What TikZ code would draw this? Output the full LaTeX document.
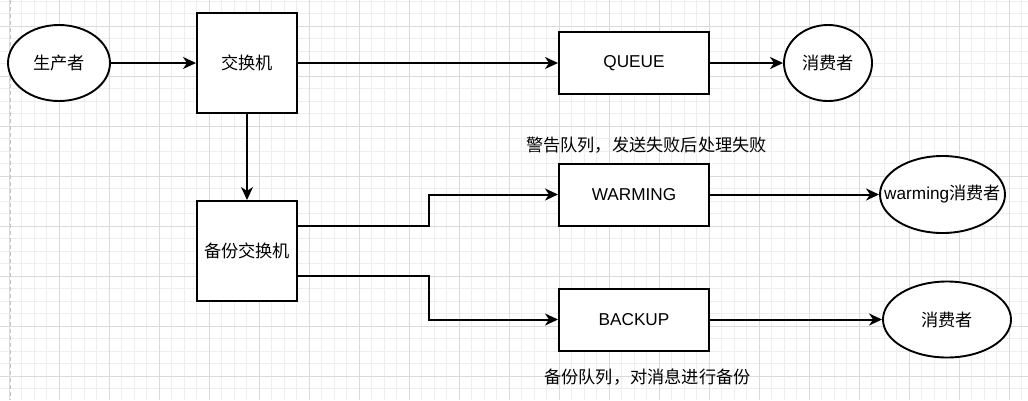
\documentclass[tikz,border=0pt]{standalone}
\usepackage{fontspec}
\setmainfont{Liberation Sans}
\newfontfamily\cjk{Noto Sans CJK SC}
\usetikzlibrary{arrows.meta,shapes.geometric}
\definecolor{gridmajor}{HTML}{DADADA}
\definecolor{gridminor}{HTML}{EEEEEE}
\definecolor{pageline}{HTML}{C4C4C4}
\newcommand\lblfont{\fontsize{17.2}{20}\selectfont}
\begin{document}
\begin{tikzpicture}[x=1pt,y=-1pt,
  box/.style={draw, line width=2pt, minimum width=150pt, minimum height=62pt, inner sep=0pt, fill=white, font=\lblfont},
  sqbox/.style={draw, line width=2pt, minimum width=100pt, minimum height=100pt, inner sep=0pt, fill=white, font=\lblfont\cjk},
  oval/.style={draw, ellipse, line width=1.9pt, inner sep=0pt, fill=white, font=\lblfont},
  note/.style={inner sep=0pt, font=\lblfont\cjk},
  conn/.style={line width=2pt, -{Stealth[length=13pt,width=12pt,inset=4pt]}},
  gminor/.style={gridminor, line width=0.8pt},
  gmajor/.style={gridmajor, line width=0.8pt}]
\useasboundingbox (0,0) rectangle (1028,400);
\fill[white] (0,0) rectangle (1028,400);
% grid
\foreach \i in {0,...,81} { \draw[gminor] ({9.3+\i*12.5},0) -- ({9.3+\i*12.5},400); }
\foreach \i in {0,...,31} { \draw[gminor] (0,{1+\i*12.5}) -- (1028,{1+\i*12.5}); }
\foreach \i in {0,...,20} { \draw[gmajor] ({9.3+\i*50},0) -- ({9.3+\i*50},400); }
\foreach \i in {0,...,7} { \draw[gmajor] (0,{26+\i*50}) -- (1028,{26+\i*50}); }
\draw[pageline, line width=1pt, dash pattern=on 4pt off 3pt] (10,0) -- (10,400);
% nodes
\node[oval, minimum width=102pt, minimum height=76pt] (prod) at (59,63) {\makebox[0pt]{\cjk 生产者}};
\node[sqbox] (sw) at (247,63) {交换机};
\node[box] (queue) at (634,63) {QUEUE};
\node[oval, minimum width=88pt, minimum height=76pt] (cons1) at (828,63) {\makebox[0pt]{\cjk 消费者}};
\node[sqbox] (bsw) at (247,251) {备份交换机};
\node[box] (warm) at (634,194.5) {WARMING};
\node[oval, minimum width=125pt, minimum height=77pt] (cons2) at (942.5,194.5) {\makebox[0pt]{warming{\cjk 消费者}}};
\node[box] (backup) at (634,319.5) {BACKUP};
\node[oval, minimum width=128pt, minimum height=76pt] (cons3) at (947,319.5) {\makebox[0pt]{\cjk 消费者}};
\node[note] (lblwarm) at (646.5,145) {警告队列，发送失败后处理失败};
\node[note] (lblbackup) at (647.5,377) {备份队列，对消息进行备份};
% connectors
\draw[conn] (prod) -- (sw);
\draw[conn] (sw) -- (queue);
\draw[conn] (queue) -- (cons1);
\draw[conn] (sw) -- (bsw);
\draw[conn] ([yshift=25pt]bsw.east) -- ++(131,0) |- (warm.west);
\draw[conn] ([yshift=-25pt]bsw.east) -- ++(131,0) |- (backup.west);
\draw[conn] (warm) -- (cons2);
\draw[conn] (backup) -- (cons3);
\end{tikzpicture}
\end{document}
